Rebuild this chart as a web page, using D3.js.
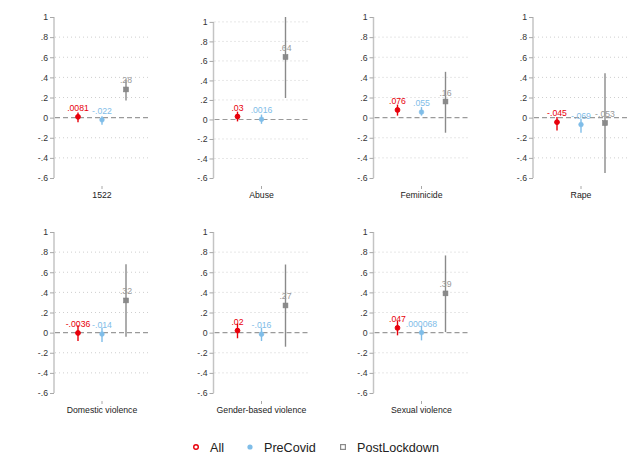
<!DOCTYPE html>
<html>
<head>
<meta charset="utf-8">
<script src="https://cdn.jsdelivr.net/npm/d3@7"></script>
<style>
  body { margin: 0; background: #fff; }
  svg { font-family: 'Liberation Sans', Arial, Helvetica, sans-serif; }
</style>
</head>
<body>
<svg id="chart" width="640" height="466"></svg>
<script>
const categories = ['1522', 'Abuse', 'Feminicide', 'Rape', 'Domestic violence', 'Gender-based violence', 'Sexual violence'];
const seriesNames = ['All', 'PreCovid', 'PostLockdown'];

const allEst = [0.0081, 0.03, 0.076, -0.045, -0.0036, 0.02, 0.047];
const allLo = [-0.045, -0.02, 0.02, -0.127, -0.083, -0.056, -0.027];
const allHi = [0.05, 0.08, 0.13, 0.005, 0.073, 0.09, 0.117];

const preEst = [-0.022, 0.0016, 0.055, -0.069, -0.014, -0.016, 0.000068];
const preLo = [-0.07, -0.045, 0.02, -0.15, -0.093, -0.083, -0.077];
const preHi = [0.013, 0.05, 0.105, -0.01, 0.05, 0.05, 0.067];

const postEst = [0.28, 0.64, 0.16, -0.053, 0.32, 0.27, 0.39];
const postLo = [0.17, 0.22, -0.15, -0.55, -0.04, -0.14, 0.005];
const postHi = [0.38, 1.05, 0.455, 0.44, 0.68, 0.677, 0.767];

const yTicks = [-0.6, -0.4, -0.2, 0, 0.2, 0.4, 0.6, 0.8, 1];

const colors = { All: '#e8000b', PreCovid: '#7fbde8', PostLockdown: '#8a8a8a' };
const labelColors = { All: '#e8000b', PreCovid: '#7fbde8', PostLockdown: '#999999' };

const svg = d3.select('#chart');

// panel geometry
const panelW = 96;
const panelH = 161;
const colX = [54, 213.5, 373.5, 533];
const rowTop = [17, 232];
const rowAxisY = [186, 401];

// Stata style numbers: drop the leading zero
const stataFmt = (v) => String(v).replace(/^(-?)0\./, '$1.');
const tickFmt = (v) => stataFmt(Math.round(v * 10) / 10);

categories.forEach((cat, i) => {
  const row = i < 4 ? 0 : 1;
  const col = i < 4 ? i : i - 4;

  const rows = [
    { s: 'All', est: allEst[i], lo: allLo[i], hi: allHi[i] },
    { s: 'PreCovid', est: preEst[i], lo: preLo[i], hi: preHi[i] },
    { s: 'PostLockdown', est: postEst[i], lo: postLo[i], hi: postHi[i] }
  ];

  const yMin = Math.min(-0.6, d3.min(rows, (d) => d.lo));
  const yMax = Math.max(1, d3.max(rows, (d) => d.hi));

  const g = svg.append('g')
    .attr('transform', `translate(${colX[col]}, ${rowTop[row]})`);

  const y = d3.scaleLinear().domain([yMin, yMax]).range([panelH, 0]);
  const x = d3.scalePoint().domain(seriesNames).range([0, panelW]).padding(1);

  // grid lines
  g.append('g')
    .selectAll('line')
    .data(yTicks.filter((t) => t !== 0 && t < yMax - 1e-6 && t > yMin + 1e-6))
    .enter()
    .append('line')
    .attr('x1', 1)
    .attr('x2', panelW)
    .attr('y1', (d) => y(d))
    .attr('y2', (d) => y(d))
    .attr('stroke', '#cfcfcf')
    .attr('stroke-width', 1)
    .attr('stroke-dasharray', '1,3');

  // zero reference line
  g.append('line')
    .attr('x1', 1)
    .attr('x2', panelW)
    .attr('y1', y(0))
    .attr('y2', y(0))
    .attr('stroke', '#9a9a9a')
    .attr('stroke-width', 1.1)
    .attr('stroke-dasharray', '5,3');

  // y axis
  const yAxis = d3.axisLeft(y)
    .tickValues(yTicks)
    .tickSize(4)
    .tickSizeOuter(0)
    .tickFormat(tickFmt);

  const yAxisGroup = g.append('g').call(yAxis);
  yAxisGroup.select('.domain')
    .attr('d', `M0,${y(1)}V${y(-0.6)}`)
    .attr('stroke', '#c4c4c4')
    .attr('stroke-width', 1.5);
  yAxisGroup.selectAll('.tick line').attr('stroke', '#a8a8a8');
  yAxisGroup.selectAll('.tick text')
    .attr('x', -6)
    .attr('fill', '#333')
    .style('font-size', '8.7px');

  // category axis (line hidden)
  const xg = g.append('g')
    .attr('transform', `translate(0, ${rowAxisY[row] - rowTop[row]})`);
  xg.append('line')
    .attr('x1', x('PreCovid'))
    .attr('x2', x('PreCovid'))
    .attr('y1', 0)
    .attr('y2', 3)
    .attr('stroke', '#a8a8a8');
  xg.append('text')
    .attr('x', x('PreCovid'))
    .attr('y', 12)
    .attr('text-anchor', 'middle')
    .attr('fill', '#222')
    .style('font-size', '8.7px')
    .text(cat);

  // confidence intervals
  g.selectAll('.ci')
    .data(rows)
    .enter()
    .append('line')
    .attr('class', 'ci')
    .attr('x1', (d) => x(d.s))
    .attr('x2', (d) => x(d.s))
    .attr('y1', (d) => y(d.lo))
    .attr('y2', (d) => y(d.hi))
    .attr('stroke', (d) => colors[d.s])
    .attr('stroke-width', 1.4);

  // markers
  rows.forEach((d) => {
    if (d.s === 'PostLockdown') {
      g.append('rect')
        .attr('x', x(d.s) - 2.4)
        .attr('y', y(d.est) - 2.4)
        .attr('width', 4.8)
        .attr('height', 4.8)
        .attr('fill', '#8a8a8a')
        .attr('stroke', '#808080')
        .attr('stroke-width', 0.6);
    } else {
      g.append('circle')
        .attr('cx', x(d.s))
        .attr('cy', y(d.est))
        .attr('r', 2.4)
        .attr('fill', colors[d.s])
        .attr('stroke', colors[d.s])
        .attr('stroke-width', d.s === 'All' ? 1 : 0.5);
    }
  });

  // value labels
  g.selectAll('.lbl')
    .data(rows)
    .enter()
    .append('text')
    .attr('class', 'lbl')
    .attr('x', (d) => x(d.s))
    .attr('y', (d) => y(d.est) - 6)
    .attr('text-anchor', 'middle')
    .attr('fill', (d) => labelColors[d.s])
    .style('font-size', '8.7px')
    .text((d) => stataFmt(d.est));
});

// legend
const legendX = [196, 250, 343];
const legend = svg.append('g').attr('transform', 'translate(0, 447)');
seriesNames.forEach((s, i) => {
  if (s === 'All') {
    legend.append('circle')
      .attr('cx', legendX[i])
      .attr('cy', 0)
      .attr('r', 2.3)
      .attr('fill', '#fff')
      .attr('stroke', colors[s])
      .attr('stroke-width', 1.4);
  } else if (s === 'PreCovid') {
    legend.append('circle')
      .attr('cx', legendX[i])
      .attr('cy', 0)
      .attr('r', 2.6)
      .attr('fill', colors[s]);
  } else {
    legend.append('rect')
      .attr('x', legendX[i] - 2.4)
      .attr('y', -2.4)
      .attr('width', 4.8)
      .attr('height', 4.8)
      .attr('fill', '#fff')
      .attr('stroke', colors[s])
      .attr('stroke-width', 1.2);
  }
  legend.append('text')
    .attr('x', legendX[i] + 14)
    .attr('y', 4.5)
    .attr('fill', '#222')
    .style('font-size', '12.6px')
    .text(s);
});
</script>
</body>
</html>
